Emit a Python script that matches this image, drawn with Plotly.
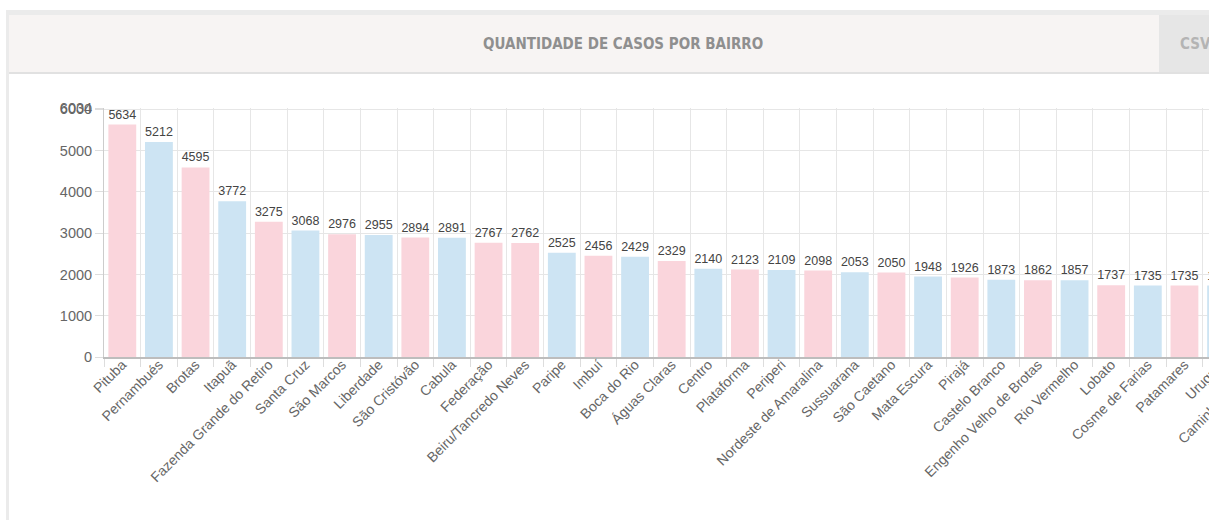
import plotly.graph_objects as go

# Data (Salvador, cases by neighbourhood)
bairros = [
    "Pituba", "Pernambués", "Brotas", "Itapuã", "Fazenda Grande do Retiro",
    "Santa Cruz", "São Marcos", "Liberdade", "São Cristóvão", "Cabula",
    "Federação", "Beiru/Tancredo Neves", "Paripe", "Imbuí", "Boca do Rio",
    "Águas Claras", "Centro", "Plataforma", "Periperi", "Nordeste de Amaralina",
    "Sussuarana", "São Caetano", "Mata Escura", "Pirajá", "Castelo Branco",
    "Engenho Velho de Brotas", "Rio Vermelho", "Lobato", "Cosme de Farias",
    "Patamares", "Uruguai", "Caminho de Areia",
]
casos = [
    5634, 5212, 4595, 3772, 3275, 3068, 2976, 2955, 2894, 2891,
    2767, 2762, 2525, 2456, 2429, 2329, 2140, 2123, 2109, 2098,
    2053, 2050, 1948, 1926, 1873, 1862, 1857, 1737, 1735, 1735,
    1731, 1700,
]
grupo = list("PBPBPBPBPBPPBPBPBPBPBPBPBPBPBPBP")
y_ticks = [0, 1000, 2000, 3000, 4000, 5000, 6000, 6034]

PINK = "#FAD5DC"
BLUE = "#CDE4F3"
cores = [PINK if g == "P" else BLUE for g in grupo]

# Figure geometry (pixels); the chart runs past the right edge of the window
W, H = 1296, 520
ML, MR, MT, MB = 104, 20, 108, 163
PW, PH = W - ML - MR, H - MT - MB


def px_x(x):
    return (x - ML) / PW


def px_y(y):
    return 1 - (y - MT) / PH


fig = go.Figure(
    go.Bar(
        x=bairros,
        y=casos,
        marker=dict(color=cores, line=dict(width=0)),
        text=[str(v) for v in casos],
        textposition="outside",
        textfont=dict(family="Liberation Sans, Arial", size=13, color="#444444"),
        cliponaxis=False,
        hoverinfo="x+y",
    )
)

# Card around the chart (header band, CSV button, borders)
card = [
    (6, 10, W, 15, "#EBEBEB"),
    (6, 10, 9, H, "#EBEBEB"),
    (9, 15, 1159, 72, "#F7F4F3"),
    (1159, 15, W, 72, "#E6E6E6"),
    (9, 72, W, 74, "#E1E1E1"),
]
shapes = []
for x0, y0, x1, y1, c in card:
    shapes.append(dict(
        type="rect", xref="paper", yref="paper",
        x0=px_x(x0), x1=px_x(x1), y0=px_y(y0), y1=px_y(y1),
        fillcolor=c, line=dict(width=0), layer="below",
    ))

fig.update_layout(
    width=W,
    height=H,
    margin=dict(l=ML, r=MR, t=MT, b=MB, pad=0),
    paper_bgcolor="white",
    plot_bgcolor="white",
    showlegend=False,
    bargap=0.24,
    shapes=shapes,
    font=dict(family="Liberation Sans, Arial", size=14, color="#666666"),
    annotations=[
        dict(
            text="<b>QUANTIDADE DE CASOS POR BAIRRO</b>",
            xref="paper", yref="paper", x=px_x(623), y=px_y(44),
            xanchor="center", yanchor="middle", showarrow=False,
            font=dict(family="DejaVu Sans Condensed, DejaVu Sans", size=15, color="#8F8F8F"),
        ),
        dict(
            text="<b>CSV</b>",
            xref="paper", yref="paper", x=px_x(1178), y=px_y(44),
            xanchor="left", yanchor="middle", showarrow=False,
            font=dict(family="DejaVu Sans Condensed, DejaVu Sans", size=15, color="#B4B4B4"),
        ),
    ],
)

fig.update_xaxes(
    type="category",
    tickangle=-45,
    tickson="boundaries",
    ticks="outside",
    ticklen=8,
    tickcolor="#DDDDDD",
    ticklabelstandoff=-8,
    showgrid=True,
    gridcolor="#E6E6E6",
    gridwidth=1,
    showline=True,
    linecolor="#BDBDBD",
    linewidth=2,
    tickfont=dict(size=14, color="#666666"),
    range=[-0.5, len(bairros) - 0.5],
)
fig.update_yaxes(
    range=[0, 6034],
    tickvals=y_ticks,
    ticktext=[str(v) for v in y_ticks],
    ticks="outside",
    ticklen=8,
    tickcolor="#DDDDDD",
    showgrid=True,
    gridcolor="#E6E6E6",
    gridwidth=1,
    zeroline=False,
    showline=True,
    linecolor="#CCCCCC",
    linewidth=1,
    tickfont=dict(size=14.5, color="#666666"),
)

fig.write_html(
    "out.html",
    config={"displayModeBar": False},
    post_script="document.body.style.margin='0';document.body.style.overflow='hidden';",
)
